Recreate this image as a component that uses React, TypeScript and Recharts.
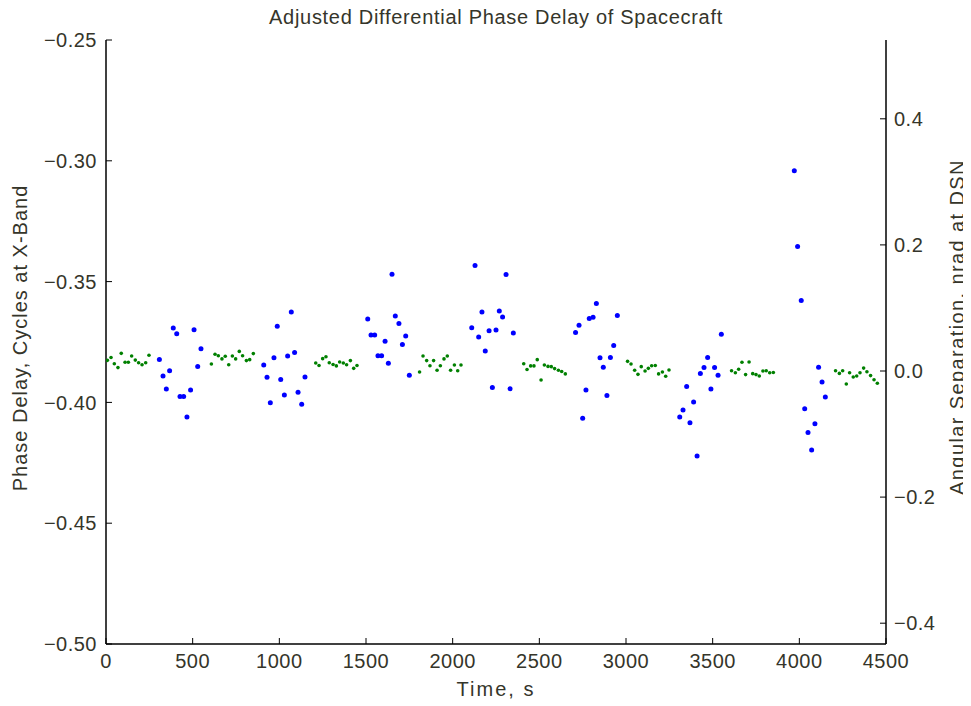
import { ScatterChart, Scatter, XAxis, YAxis } from 'recharts';

// quiet intervals (green) and spacecraft intervals (blue), time in s, phase delay in cycles
const greenTime = [
  8, 29, 48, 69, 88, 110, 129, 148, 169, 188, 208, 229, 248,
  608, 629, 648, 669, 688, 708, 729, 748, 769, 788, 810, 829, 850,
  1210, 1229, 1250, 1269, 1288, 1310, 1329, 1348, 1369, 1388, 1410, 1429, 1448,
  1809, 1829, 1850, 1869, 1890, 1910, 1929, 1950, 1969, 1988, 2010, 2029, 2048,
  2410, 2429, 2450, 2469, 2488, 2510, 2529, 2550, 2569, 2588, 2610, 2629, 2650,
  3009, 3029, 3050, 3069, 3088, 3110, 3129, 3148, 3169, 3188, 3210, 3229, 3248,
  3609, 3631, 3650, 3669, 3690, 3710, 3731, 3750, 3769, 3790, 3809, 3829, 3850,
  4209, 4231, 4250, 4271, 4290, 4311, 4331, 4350, 4371, 4390, 4411, 4431, 4450,
];
const greenDelay = [
  -0.3826, -0.3814, -0.384, -0.3856, -0.3797, -0.3834, -0.3834, -0.3808, -0.3825, -0.3836, -0.3844, -0.3836, -0.3805,
  -0.3841, -0.3801, -0.3807, -0.382, -0.3809, -0.3844, -0.3808, -0.382, -0.3789, -0.3807, -0.3827, -0.3823, -0.3798,
  -0.3837, -0.3847, -0.3819, -0.3811, -0.3836, -0.3843, -0.3849, -0.3833, -0.3837, -0.3844, -0.3827, -0.3859, -0.3847,
  -0.3874, -0.3808, -0.3827, -0.3848, -0.3827, -0.3867, -0.3848, -0.382, -0.3808, -0.3867, -0.3845, -0.3869, -0.3845,
  -0.384, -0.3864, -0.3849, -0.3849, -0.3823, -0.3907, -0.3845, -0.3851, -0.3852, -0.386, -0.3867, -0.3872, -0.3882,
  -0.383, -0.3841, -0.3867, -0.3884, -0.3852, -0.387, -0.3859, -0.3848, -0.3847, -0.3882, -0.3874, -0.3892, -0.3866,
  -0.3869, -0.3877, -0.3863, -0.3834, -0.3885, -0.3833, -0.3881, -0.3885, -0.3891, -0.387, -0.3869, -0.3877, -0.3876,
  -0.3869, -0.388, -0.3869, -0.3924, -0.3877, -0.3895, -0.3891, -0.3877, -0.3858, -0.3873, -0.3889, -0.3906, -0.3921,
];

const blueTime = [
  308, 329, 348, 367, 388, 408, 427, 448, 467, 488, 508, 529, 548,
  910, 929, 948, 969, 988, 1008, 1029, 1048, 1069, 1088, 1108, 1129, 1148,
  1510, 1529, 1550, 1569, 1590, 1610, 1629, 1650, 1669, 1690, 1710, 1729, 1750,
  2110, 2129, 2150, 2169, 2188, 2210, 2229, 2250, 2269, 2288, 2308, 2331, 2350,
  2709, 2729, 2750, 2769, 2788, 2810, 2829, 2850, 2869, 2890, 2910, 2929, 2950,
  3310, 3329, 3350, 3369, 3390, 3410, 3429, 3450, 3471, 3490, 3511, 3531, 3550,
  3971, 3990, 4011, 4031, 4050, 4071, 4090, 4111, 4131, 4150,
];
const blueDelay = [
  -0.3822, -0.3891, -0.3945, -0.3869, -0.3692, -0.3716, -0.3976, -0.3976, -0.406, -0.3949, -0.3699, -0.3851, -0.3778,
  -0.3845, -0.3896, -0.4001, -0.3815, -0.3685, -0.3905, -0.3969, -0.3808, -0.3626, -0.3793, -0.3958, -0.4008, -0.3895,
  -0.3655, -0.3721, -0.3721, -0.3807, -0.3807, -0.3747, -0.3838, -0.347, -0.3642, -0.3673, -0.376, -0.3725, -0.3888,
  -0.3691, -0.3433, -0.3729, -0.3626, -0.3787, -0.3703, -0.3938, -0.37, -0.3622, -0.3647, -0.3471, -0.3943, -0.3713,
  -0.3711, -0.3681, -0.4066, -0.3949, -0.3653, -0.3648, -0.3591, -0.3815, -0.3854, -0.3971, -0.3814, -0.3764, -0.364,
  -0.406, -0.4031, -0.3934, -0.4084, -0.3998, -0.4222, -0.388, -0.3856, -0.3814, -0.3945, -0.3856, -0.3888, -0.3718,
  -0.3041, -0.3355, -0.3578, -0.4026, -0.4125, -0.4197, -0.4088, -0.3855, -0.3916, -0.3978,
];

const timeTicks = [0, 500, 1000, 1500, 2000, 2500, 3000, 3500, 4000, 4500];
const delayTicks = [-0.5, -0.45, -0.4, -0.35, -0.3, -0.25];
const separationTicks = [-0.4, -0.2, 0, 0.2, 0.4];

const greenData = greenTime.map((t, i) => ({ t, v: greenDelay[i] }));
const blueData = blueTime.map((t, i) => ({ t, v: blueDelay[i] }));

const FONT = '"Liberation Sans", Arial, sans-serif';
const TEXT = '#35352a';
const TICK = 6;
const TICK_FONT = { fontSize: 20, letterSpacing: 0.5, fill: TEXT, fontFamily: FONT };

const fmt = (v: number, d: number) => {
  const s = Math.abs(v).toFixed(d);
  return v < -1e-9 ? '\u2212' + s : s;
};

const LeftTick = (p: any) => (
  <g>
    <line x1={p.x} x2={p.x + TICK} y1={p.y} y2={p.y} stroke="#000" strokeWidth={1} />
    <text x={p.x - 9} y={p.y} dy="0.36em" textAnchor="end" {...TICK_FONT}>
      {fmt(p.payload.value, 2)}
    </text>
  </g>
);

const RightTick = (p: any) => (
  <g>
    <line x1={p.x} x2={p.x - TICK} y1={p.y} y2={p.y} stroke="#000" strokeWidth={1} />
    <text x={p.x + 8} y={p.y} dy="0.36em" textAnchor="start" {...TICK_FONT}>
      {fmt(p.payload.value, 1)}
    </text>
  </g>
);

const BottomTick = (p: any) => (
  <g>
    <line x1={p.x} x2={p.x} y1={p.y} y2={p.y - TICK} stroke="#000" strokeWidth={1} />
    <text x={p.x} y={p.y + 24} textAnchor="middle" {...TICK_FONT}>
      {p.payload.value}
    </text>
  </g>
);

const TopTick = (p: any) => (
  <line x1={p.x} x2={p.x} y1={p.y} y2={p.y + TICK} stroke="#000" strokeWidth={1} />
);

const dot = (r: number, color: string) => (p: any) => <circle cx={p.cx} cy={p.cy} r={r} fill={color} />;

const labelStyle = { fontSize: 20, letterSpacing: 1 };

export default function App() {
  return (
    <div style={{ position: 'relative', width: 963, height: 698, fontFamily: FONT, color: TEXT }}>
      <div style={{ position: 'absolute', left: 98, width: 780, top: -2, textAlign: 'center', ...labelStyle, letterSpacing: 0.7 }}>
        Adjusted Differential Phase Delay of Spacecraft
      </div>
      <div style={{ position: 'absolute', left: 12, top: 330, width: 0, height: 0 }}>
        <div style={{ position: 'absolute', transform: 'translate(-50%, -50%) rotate(-90deg)', whiteSpace: 'nowrap', ...labelStyle }}>
          Phase Delay, Cycles at X-Band
        </div>
      </div>
      <div style={{ position: 'absolute', left: 949, top: 319, width: 0, height: 0 }}>
        <div style={{ position: 'absolute', transform: 'translate(-50%, -50%) rotate(-90deg)', whiteSpace: 'nowrap', ...labelStyle, letterSpacing: 1.4 }}>
          Angular Separation, nrad at DSN
        </div>
      </div>
      <div style={{ position: 'absolute', left: 98, width: 780, top: 670, textAlign: 'center', ...labelStyle, letterSpacing: 2 }}>
        Time, s
      </div>
      <ScatterChart width={963} height={698} margin={{ top: 32, right: 0, bottom: 0, left: 0 }}>
        <XAxis
          xAxisId="b"
          dataKey="t"
          type="number"
          domain={[0, 4500]}
          ticks={timeTicks}
          orientation="bottom"
          height={62}
          tickSize={0}
          tickMargin={0}
          tickLine={false}
          tick={BottomTick}
          axisLine={{ stroke: '#000', strokeWidth: 1.5 }}
          allowDataOverflow
        />
        <XAxis
          xAxisId="top"
          dataKey="t"
          type="number"
          domain={[0, 4500]}
          ticks={timeTicks}
          orientation="top"
          height={0}
          tickSize={0}
          tickMargin={0}
          tickLine={false}
          tick={TopTick}
          axisLine={{ stroke: '#000', strokeWidth: 1.5 }}
          allowDataOverflow
        />
        <YAxis
          yAxisId="l"
          dataKey="v"
          type="number"
          domain={[-0.5, -0.25]}
          ticks={delayTicks}
          orientation="left"
          width={98}
          tickSize={0}
          tickMargin={0}
          tickLine={false}
          tick={LeftTick}
          axisLine={{ stroke: '#000', strokeWidth: 1.5 }}
          allowDataOverflow
        />
        <YAxis
          yAxisId="r"
          type="number"
          domain={[-0.433, 0.525]}
          ticks={separationTicks}
          orientation="right"
          width={85}
          tickSize={0}
          tickMargin={0}
          tickLine={false}
          tick={RightTick}
          axisLine={{ stroke: '#000', strokeWidth: 1.5 }}
          allowDataOverflow
        />
        <Scatter
          name="quiet"
          data={greenData}
          xAxisId="b"
          yAxisId="l"
          fill="#008000"
          shape={dot(1.8, '#008000')}
          isAnimationActive={false}
        />
        <Scatter
          name="spacecraft"
          data={blueData}
          xAxisId="b"
          yAxisId="l"
          fill="#0000ff"
          shape={dot(2.5, '#0000ff')}
          isAnimationActive={false}
        />
      </ScatterChart>
    </div>
  );
}
